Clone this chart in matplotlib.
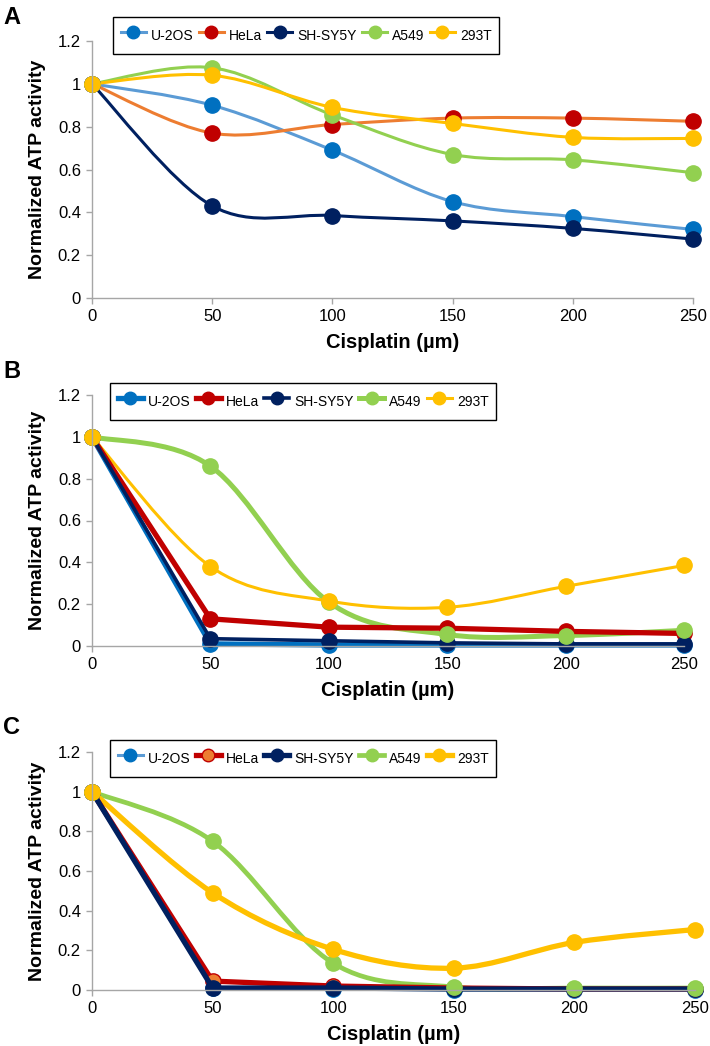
import numpy as np
import matplotlib
matplotlib.use("Agg")
import matplotlib.pyplot as plt
from matplotlib.path import Path
from matplotlib.patches import PathPatch
from matplotlib.lines import Line2D
from matplotlib.ticker import FuncFormatter

plt.rcParams["font.family"] = ["Liberation Sans", "DejaVu Sans"]

cisplatin = [0, 50, 100, 150, 200, 250]
cell_lines = ["U-2OS", "HeLa", "SH-SY5Y", "A549", "293T"]

# panel A
a_u2os = [1, 0.90, 0.69, 0.45, 0.38, 0.32]
a_hela = [1, 0.77, 0.81, 0.84, 0.84, 0.825]
a_shsy5y = [1, 0.43, 0.385, 0.36, 0.325, 0.275]
a_a549 = [1, 1.075, 0.855, 0.67, 0.645, 0.585]
a_293t = [1, 1.04, 0.89, 0.815, 0.75, 0.745]

# panel B
b_u2os = [1, 0.01, 0.005, 0.005, 0.005, 0.005]
b_hela = [1, 0.13, 0.09, 0.085, 0.07, 0.06]
b_shsy5y = [1, 0.035, 0.025, 0.015, 0.01, 0.01]
b_a549 = [1, 0.86, 0.21, 0.055, 0.05, 0.075]
b_293t = [1, 0.38, 0.215, 0.185, 0.285, 0.385]

# panel C
c_u2os = [1, 0.01, 0.005, 0.0, 0.0, 0.0]
c_hela = [1, 0.045, 0.02, 0.01, 0.005, 0.005]
c_shsy5y = [1, 0.01, 0.01, 0.005, 0.005, 0.005]
c_a549 = [1, 0.75, 0.135, 0.015, 0.01, 0.01]
c_293t = [1, 0.49, 0.205, 0.11, 0.24, 0.305]

W, H = 710, 1046


def smooth_path(x, y):
    # excel-like smoothed line: catmull-rom as cubic bezier
    pts = np.column_stack([x, y]).astype(float)
    n = len(pts)
    verts = [pts[0]]
    codes = [Path.MOVETO]
    for i in range(n - 1):
        p0 = pts[max(i - 1, 0)]
        p1 = pts[i]
        p2 = pts[i + 1]
        p3 = pts[min(i + 2, n - 1)]
        verts += [p1 + (p2 - p0) / 6, p2 - (p3 - p1) / 6, p2]
        codes += [Path.CURVE4] * 3
    return Path(verts, codes)


def make_axes(fig, left, right, top, bottom):
    ax = fig.add_axes([left / W, 1 - bottom / H, (right - left) / W, (bottom - top) / H])
    ax.set_xlim(0, 250)
    ax.set_ylim(0, 1.2)
    ax.set_xticks(cisplatin)
    ax.set_yticks([0, 0.2, 0.4, 0.6, 0.8, 1.0, 1.2])
    ax.yaxis.set_major_formatter(FuncFormatter(lambda v, p: "%g" % round(v, 1)))
    for s in ["top", "right"]:
        ax.spines[s].set_visible(False)
    for s in ["left", "bottom"]:
        ax.spines[s].set_color("#A6A6A6")
        ax.spines[s].set_linewidth(1.0)
    ax.tick_params(length=4, width=1, color="#A6A6A6", labelsize=12, pad=4)
    return ax


def draw_series(ax, y, line_color, marker_color, lw, smooth, edge=None, ms=11):
    if smooth:
        patch = PathPatch(smooth_path(cisplatin, y), facecolor="none",
                          edgecolor=line_color, lw=lw, clip_on=False,
                          capstyle="round", joinstyle="round")
        ax.add_patch(patch)
    else:
        ax.plot(cisplatin, y, color=line_color, lw=lw, clip_on=False,
                solid_capstyle="round", solid_joinstyle="round")
    ax.plot(cisplatin, y, linestyle="none", marker="o", ms=ms,
            mfc=marker_color, mec=edge or marker_color, mew=1.0, clip_on=False)
    return Line2D([], [], color=line_color, lw=lw, marker="o", ms=9,
                  mfc=marker_color, mec=edge or marker_color)


def panel(fig, box, letter, letter_y, series, legend_box, xlabel_y):
    left, right, top, bottom = box
    ax = make_axes(fig, left, right, top, bottom)
    handles = []
    for y, lc, mc, lw, sm, ed in series:
        handles.append(draw_series(ax, y, lc, mc, lw, sm, ed))
    fig.legend(handles, cell_lines, ncol=5, loc="upper left",
               bbox_to_anchor=(legend_box[0] / W, 1 - legend_box[1] / H),
               frameon=True, fancybox=False, edgecolor="black", framealpha=1,
               fontsize=10, handlelength=1.8, handleheight=2.0, handletextpad=0.35,
               columnspacing=0.4, borderpad=0.55, borderaxespad=0)
    fig.text(12 / W, 1 - letter_y / H, letter, fontsize=17, fontweight="bold",
             ha="center", va="center")
    fig.text(38 / W, 1 - (top + bottom) / 2 / H, "Normalized ATP activity",
             rotation=90, fontsize=14, fontweight="bold", ha="center", va="center")
    fig.text((left + right) / 2 / W, 1 - xlabel_y / H, "Cisplatin (µm)",
             fontsize=14.5, fontweight="bold", ha="center", va="center")
    return ax


fig = plt.figure(figsize=(W / 100, H / 100), dpi=100)

blue_l, blue_m = "#5B9BD5", "#0070C0"
orange, red = "#ED7D31", "#C00000"
navy = "#002060"
green = "#92D050"
gold = "#FFC000"

panel(fig, (92, 693, 41, 298), "A", 17, [
    (a_u2os, blue_l, blue_m, 2.2, True, None),
    (a_hela, orange, red, 2.2, True, None),
    (a_shsy5y, navy, navy, 2.2, True, None),
    (a_a549, green, green, 2.2, True, None),
    (a_293t, gold, gold, 2.2, True, None),
], (113, 17), 342)

panel(fig, (92, 684, 395, 646), "B", 372, [
    (b_u2os, blue_m, blue_m, 3.8, False, None),
    (b_hela, red, red, 3.8, False, None),
    (b_shsy5y, navy, navy, 2.6, False, None),
    (b_a549, green, green, 3.6, True, None),
    (b_293t, gold, gold, 2.2, True, None),
], (110, 383), 690)

panel(fig, (92, 695, 752, 990), "C", 727, [
    (c_u2os, blue_l, blue_m, 2.2, False, None),
    (c_hela, red, orange, 3.8, False, red),
    (c_shsy5y, navy, navy, 3.8, False, None),
    (c_a549, green, green, 3.4, True, None),
    (c_293t, gold, gold, 3.8, True, None),
], (110, 740), 1035)

fig.savefig("out.png", dpi=100)
